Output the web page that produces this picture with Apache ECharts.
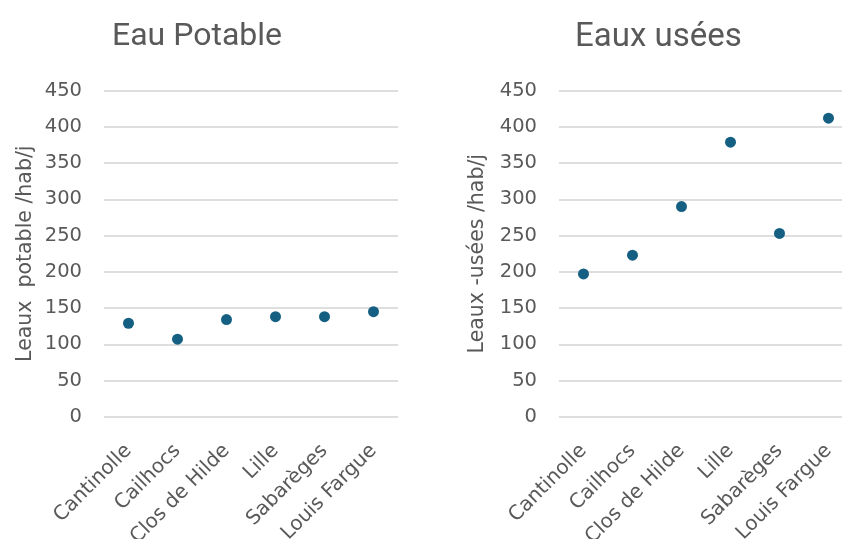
<!DOCTYPE html>
<html>
<head>
<meta charset="utf-8">
<script src="https://cdn.jsdelivr.net/npm/echarts@6/dist/echarts.min.js"></script>
<style>
  html, body { margin: 0; padding: 0; background: #fff; }
  #chart { width: 842px; height: 539px; }
</style>
</head>
<body>
<div id="chart"></div>
<script>
// Sites compared in both panels
const sites = ['Cantinolle', 'Cailhocs', 'Clos de Hilde', 'Lille', 'Sabarèges', 'Louis Fargue'];
// Litres of drinking water per inhabitant per day
const eauPotable = [129, 107, 134, 138, 138, 145];
// Litres of waste water per inhabitant per day
const eauxUsees = [197, 223, 290, 379, 253, 412];
// Value axis ticks
const yTicks = [0, 50, 100, 150, 200, 250, 300, 350, 400, 450];

const grey = '#595959';
const dotColor = '#156082';
const labelFont = 'DejaVu Sans';

function valueAxis(gridIndex, name, gap) {
  return {
    type: 'value',
    gridIndex: gridIndex,
    min: yTicks[0],
    max: yTicks[yTicks.length - 1],
    interval: yTicks[1] - yTicks[0],
    name: name,
    nameLocation: 'middle',
    nameGap: gap,
    nameTextStyle: { color: grey, fontFamily: labelFont, fontSize: 20.5 },
    axisLine: { show: false },
    axisTick: { show: false },
    axisLabel: { color: grey, fontFamily: labelFont, fontSize: 19.5, margin: 22 },
    splitLine: { lineStyle: { color: '#dedede', width: 1.8 } }
  };
}

function categoryAxis(gridIndex) {
  return {
    type: 'category',
    gridIndex: gridIndex,
    data: sites,
    boundaryGap: true,
    axisLine: { show: false },
    axisTick: { show: false },
    axisLabel: {
      color: grey, fontFamily: labelFont, fontSize: 20,
      rotate: 45, margin: 31, interval: 0
    }
  };
}

const chart = echarts.init(document.getElementById('chart'), null, { renderer: 'canvas' });
chart.setOption({
  animation: false,
  backgroundColor: '#ffffff',
  title: [
    { text: 'Eau Potable', left: 107, top: 16,
      textStyle: { color: grey, fontFamily: 'Roboto', fontSize: 32, fontWeight: 'normal' } },
    { text: 'Eaux usées', left: 570, top: 16,
      textStyle: { color: grey, fontFamily: 'Roboto', fontSize: 33, fontWeight: 'normal' } }
  ],
  grid: [
    { left: 104, top: 90.7, width: 294, height: 326, outerBoundsMode: 'none', containLabel: false },
    { left: 559, top: 90.7, width: 294, height: 326, outerBoundsMode: 'none', containLabel: false }
  ],
  xAxis: [categoryAxis(0), categoryAxis(1)],
  yAxis: [valueAxis(0, 'Leaux  potable /hab/j', 68), valueAxis(1, 'Leaux -usées /hab/j', 71)],
  series: [
    { type: 'scatter', xAxisIndex: 0, yAxisIndex: 0, data: eauPotable,
      symbolSize: 11, itemStyle: { color: dotColor, opacity: 1 } },
    { type: 'scatter', xAxisIndex: 1, yAxisIndex: 1, data: eauxUsees,
      symbolSize: 11, itemStyle: { color: dotColor, opacity: 1 } }
  ]
});
</script>
</body>
</html>
